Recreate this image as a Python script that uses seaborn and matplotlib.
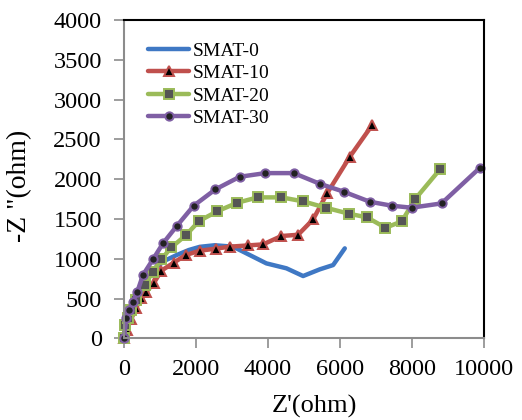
import matplotlib
matplotlib.use("Agg")
import matplotlib.pyplot as plt
import seaborn as sns
import pandas as pd

# ---- data ----
s0_x = [0, 60, 150, 300, 550, 850, 1150, 1465, 1800, 2104, 2521, 3031, 3494, 3957, 4514, 4977, 5440, 5811, 6135]
s0_y = [0, 180, 330, 520, 720, 880, 980, 1047, 1110, 1150, 1170, 1152, 1047, 942, 880, 783, 867, 921, 1131]

s10_x = [0, 80, 200, 330, 482, 621, 825, 1038, 1381, 1715, 2104, 2549, 2938, 3448, 3865, 4375, 4838, 5255, 5654, 6274, 6895]
s10_y = [0, 110, 240, 380, 503, 586, 691, 850, 951, 1047, 1101, 1127, 1152, 1168, 1181, 1286, 1302, 1495, 1830, 2282, 2680]

s20_x = [0, 19, 100, 200, 343, 575, 806, 1038, 1316, 1715, 2085, 2586, 3151, 3717, 4375, 4986, 5607, 6256, 6756, 7266, 7720, 8082, 8777]
s20_y = [0, 168, 260, 360, 482, 670, 838, 993, 1143, 1294, 1474, 1596, 1705, 1772, 1772, 1721, 1642, 1566, 1520, 1390, 1470, 1746, 2123]

s30_x = [0, 65, 150, 250, 371, 528, 806, 1084, 1474, 1937, 2539, 3216, 3930, 4717, 5440, 6108, 6831, 7442, 7989, 8823, 9889]
s30_y = [0, 251, 360, 461, 586, 796, 993, 1194, 1416, 1667, 1872, 2031, 2077, 2077, 1943, 1843, 1717, 1667, 1642, 1696, 2144]

labels = ["SMAT-0", "SMAT-10", "SMAT-20", "SMAT-30"]
x_ticks = [0, 2000, 4000, 6000, 8000, 10000]
y_ticks = [0, 500, 1000, 1500, 2000, 2500, 3000, 3500, 4000]

colors = ["#3F78C4", "#C0504D", "#9BBB59", "#7F5FA4"]
markers = [None, "^", "s", "o"]
mfc = [None, "black", "#555555", "#222222"]

sns.set_style("white")
plt.rcParams["font.family"] = ["Liberation Serif", "DejaVu Serif"]
plt.rcParams["text.color"] = "black"
plt.rcParams["axes.labelcolor"] = "black"
plt.rcParams["xtick.labelcolor"] = "black"
plt.rcParams["ytick.labelcolor"] = "black"

fig = plt.figure(figsize=(5.22, 4.2), dpi=100)
ax = fig.add_axes([0.2375, 0.1945, 0.927 - 0.2375, 0.952 - 0.1945])

series = [(s0_x, s0_y), (s10_x, s10_y), (s20_x, s20_y), (s30_x, s30_y)]
for (xs, ys), lab, c, m, fc in zip(series, labels, colors, markers, mfc):
    df = pd.DataFrame({"x": xs, "y": ys})
    kw = dict(data=df, x="x", y="y", sort=False, estimator=None, ax=ax,
              color=c, linewidth=3.2, label=lab, clip_on=False)
    if m is not None:
        kw.update(marker=m, markersize=6.5 if m != "o" else 6, markerfacecolor=fc,
                  markeredgecolor=c, markeredgewidth=1.4)
    sns.lineplot(**kw)

ax.set_xlim(0, 10000)
ax.set_ylim(0, 4000)
ax.set_xticks(x_ticks)
ax.set_yticks(y_ticks)
ax.tick_params(axis="both", labelsize=17.5, direction="out", length=7, width=1.2,
               color="#8c8c8c", labelcolor="black", bottom=True, left=True)
ax.tick_params(axis="y", pad=9)
ax.tick_params(axis="x", pad=8)
for s in ["left", "bottom"]:
    ax.spines[s].set_color("#8c8c8c")
    ax.spines[s].set_linewidth(1.5)
for s in ["top", "right"]:
    ax.spines[s].set_color("black")
    ax.spines[s].set_linewidth(1.5)

ax.set_xlabel("Z'(ohm)", fontsize=19, color="black")
ax.set_ylabel('-Z "(ohm)', fontsize=20, color="black")
ax.xaxis.set_label_coords(0.53, -0.178)
ax.yaxis.set_label_coords(-0.254, 0.48)

leg = ax.legend(loc="upper left", bbox_to_anchor=(0.035, 0.968), frameon=False,
                fontsize=14, handlelength=2.1, handletextpad=0.2,
                labelspacing=0.25, borderaxespad=0.2)
for t in leg.get_texts():
    t.set_color("black")

fig.savefig("out.png", dpi=100)
